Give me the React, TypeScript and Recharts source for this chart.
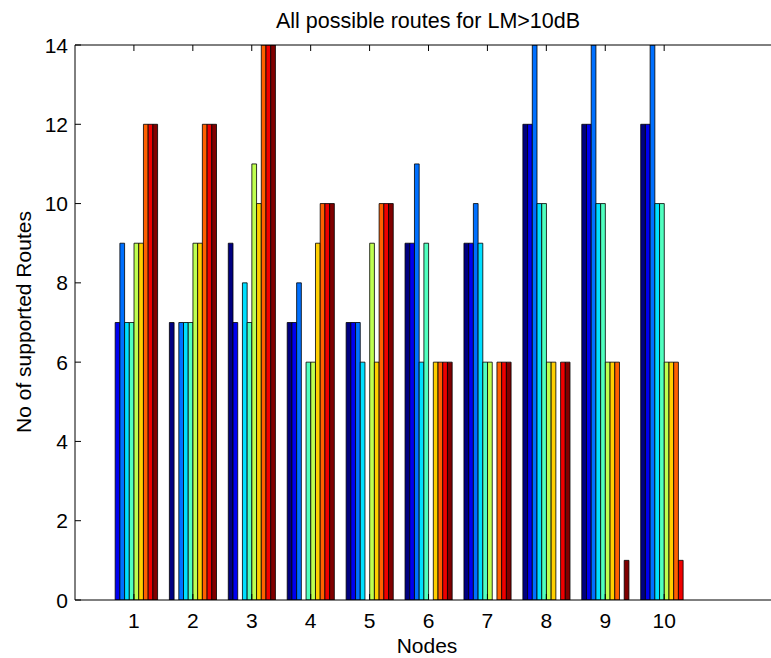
import { BarChart, Bar, XAxis, YAxis } from "recharts";

// nodes on the x axis
const nodes = ["1", "2", "3", "4", "5", "6", "7", "8", "9", "10"];

// supported routes, one array per bar colour (destination node)
const toNode1 = [0, 7, 9, 7, 7, 9, 9, 12, 12, 12];
const toNode2 = [7, 0, 7, 7, 7, 9, 9, 12, 12, 12];
const toNode3 = [9, 7, 0, 8, 7, 11, 10, 14, 14, 14];
const toNode4 = [7, 7, 8, 0, 6, 6, 9, 10, 10, 10];
const toNode5 = [7, 7, 7, 6, 0, 9, 6, 10, 10, 10];
const toNode6 = [9, 9, 11, 6, 9, 0, 6, 6, 6, 6];
const toNode7 = [9, 9, 10, 9, 6, 6, 0, 6, 6, 6];
const toNode8 = [12, 12, 14, 10, 10, 6, 6, 0, 6, 6];
const toNode9 = [12, 12, 14, 10, 10, 6, 6, 6, 0, 1];
const toNode10 = [12, 12, 14, 10, 10, 6, 6, 6, 1, 0];

const yTicks = [0, 2, 4, 6, 8, 10, 12, 14];

// jet(64) sampled for 10 series
const jetColors = [
  "rgb(0,0,128)",
  "rgb(0,0,239)",
  "rgb(0,112,255)",
  "rgb(0,223,255)",
  "rgb(80,255,191)",
  "rgb(191,255,80)",
  "rgb(255,207,0)",
  "rgb(255,96,0)",
  "rgb(239,0,0)",
  "rgb(128,0,0)",
];

const series = [
  toNode1, toNode2, toNode3, toNode4, toNode5,
  toNode6, toNode7, toNode8, toNode9, toNode10,
];

const data = nodes.map((node, i) => {
  const row: Record<string, string | number> = { node };
  series.forEach((s, k) => {
    row[`s${k + 1}`] = s[i];
  });
  return row;
});

const FONT = "'Liberation Sans', Arial, Helvetica, sans-serif";
const FS = 21;
const TICK = 6;

const PLOT_LEFT = 75;
const PLOT_TOP = 45;
const PLOT_BOTTOM = 600;
const PLOT_RIGHT = 782;
const BAND = (PLOT_RIGHT - PLOT_LEFT) / 12;

function BottomTick(props: any) {
  const { x, y, payload } = props;
  return (
    <g>
      <line x1={x} x2={x} y1={y} y2={y - TICK} stroke="#000" strokeWidth={1} />
      <text x={x} y={y + 28} textAnchor="middle" fontFamily={FONT} fontSize={FS} fill="#000">
        {payload.value}
      </text>
    </g>
  );
}

function TopTick(props: any) {
  const { x } = props;
  return <line x1={x} x2={x} y1={PLOT_TOP} y2={PLOT_TOP + TICK} stroke="#000" strokeWidth={1} />;
}

function LeftTick(props: any) {
  const { y, payload } = props;
  const x = PLOT_LEFT;
  return (
    <g>
      <line x1={x} x2={x + TICK} y1={y} y2={y} stroke="#000" strokeWidth={1} />
      <text x={x - 7} y={y + 7.5} textAnchor="end" fontFamily={FONT} fontSize={FS} fill="#000">
        {payload.value}
      </text>
    </g>
  );
}

export default function App() {
  const padLeft = BAND / 2;
  const padRight = PLOT_RIGHT - PLOT_LEFT - padLeft - BAND * 10;

  return (
    <div
      style={{
        position: "absolute",
        left: 0,
        top: 0,
        width: 771,
        height: 658,
        overflow: "hidden",
        background: "#fff",
      }}
    >
      <BarChart
        width={800}
        height={658}
        data={data}
        margin={{ top: PLOT_TOP - 1, right: 800 - PLOT_RIGHT, bottom: 0, left: PLOT_LEFT - 1 }}
        barGap={0}
        barSize={BAND * 0.08}
      >
        <XAxis
          dataKey="node"
          height={658 - PLOT_BOTTOM}
          tickSize={0}
          tickMargin={0}
          tick={<BottomTick />}
          interval={0}
          padding={{ left: padLeft, right: padRight }}
          axisLine={{ stroke: "#000", strokeWidth: 1 }}
        />
        <XAxis
          xAxisId="top"
          orientation="top"
          dataKey="node"
          height={1}
          tickSize={0}
          tickMargin={0}
          tick={<TopTick />}
          interval={0}
          padding={{ left: padLeft, right: padRight }}
          axisLine={false}
        />
        <YAxis
          width={1}
          domain={[0, 14]}
          ticks={yTicks}
          allowDataOverflow
          tickSize={0}
          tickMargin={0}
          tick={<LeftTick />}
          interval={0}
          axisLine={false}
        />
        {series.map((_, k) => (
          <Bar
            key={k}
            dataKey={`s${k + 1}`}
            fill={jetColors[k]}
            stroke="#000"
            strokeWidth={0.8}
            isAnimationActive={false}
          />
        ))}
      </BarChart>

      <svg
        width={771}
        height={658}
        style={{ position: "absolute", left: 0, top: 0, pointerEvents: "none" }}
      >
        <line x1={PLOT_LEFT} x2={771} y1={PLOT_TOP} y2={PLOT_TOP} stroke="#000" strokeWidth={1} />
        <line x1={PLOT_LEFT} x2={PLOT_LEFT} y1={PLOT_TOP} y2={PLOT_BOTTOM} stroke="#000" strokeWidth={1} />
        <text x={428} y={28} textAnchor="middle" fontFamily={FONT} fontSize={21.5} fill="#000">
          All possible routes for LM&gt;10dB
        </text>
        <text x={427} y={653} textAnchor="middle" fontFamily={FONT} fontSize={FS} fill="#000">
          Nodes
        </text>
        <text
          x={0}
          y={0}
          transform="translate(31,322) rotate(-90)"
          textAnchor="middle"
          fontFamily={FONT}
          fontSize={FS}
          fill="#000"
        >
          No of supported Routes
        </text>
      </svg>
    </div>
  );
}
